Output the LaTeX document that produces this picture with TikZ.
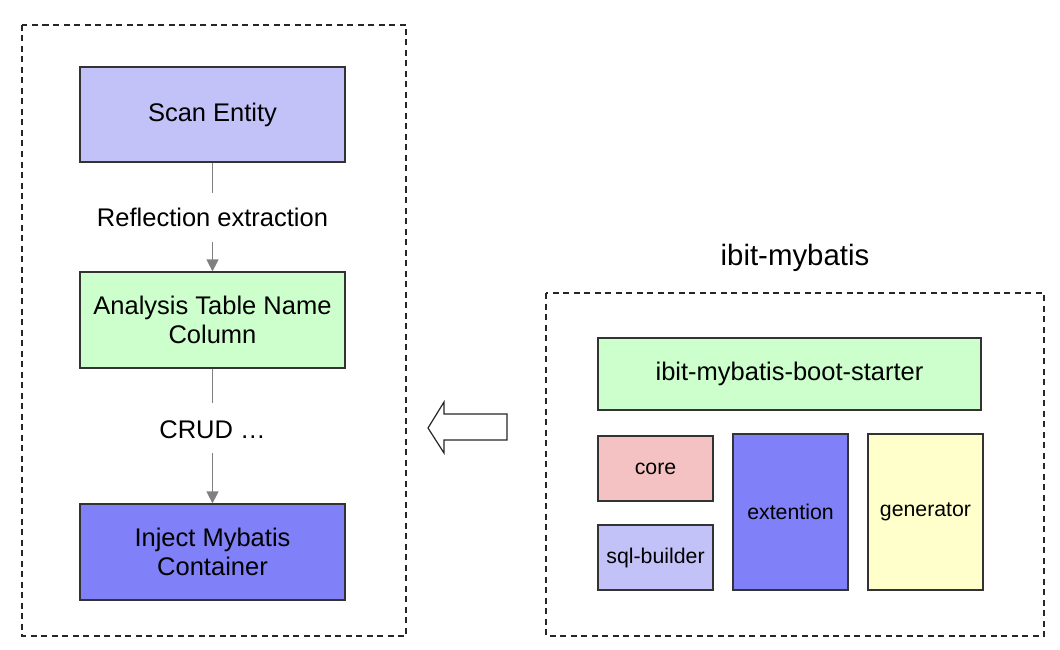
\documentclass[tikz,border=0pt]{standalone}
\usepackage{fontspec}
\setmainfont{Liberation Sans}
\usetikzlibrary{arrows.meta}
\definecolor{lav}{HTML}{C2C2F8}
\definecolor{grn}{HTML}{CCFFCC}
\definecolor{blu}{HTML}{8080F8}
\definecolor{pnk}{HTML}{F4C2C2}
\definecolor{ylw}{HTML}{FFFFCC}
\definecolor{edge}{HTML}{333333}
\tikzset{
  box/.style={draw=edge, line width=1.2pt, inner sep=0pt, align=center, font=\fontsize{25.5}{29}\selectfont},
  sbox/.style={draw=edge, line width=1.2pt, inner sep=0pt, align=center, font=\fontsize{21.3}{25}\selectfont},
  frame/.style={draw=black!85, line width=1.1pt, dash pattern=on 6pt off 4.5pt},
  conn/.style={draw=black!50, line width=1.2pt},
  arr/.style={conn, -{Triangle[length=12pt,width=12pt]}},
  lbl/.style={font=\fontsize{25.5}{29}\selectfont, inner sep=0pt}
}
\begin{document}
\begin{tikzpicture}[x=1pt,y=-1pt]
\useasboundingbox (0,0) rectangle (1060,650);
% frames
\draw[frame] (22,25) rectangle (406,636);
\draw[frame] (546,293) rectangle (1044,636);
% left flow
\node[box, fill=lav, minimum width=265pt, minimum height=95pt] (scan) at (212.5,114.5) {Scan Entity};
\node[box, fill=grn, minimum width=265pt, minimum height=96pt] (ana) at (212.5,320) {Analysis Table Name\\Column};
\node[box, fill=blu, minimum width=265pt, minimum height=96pt] (inj) at (212.5,552) {Inject Mybatis\\Container};
\node[lbl] (refl) at (212.5,217) {Reflection extraction};
\node[lbl] (crud) at (212.5,430) {CRUD \dots};
\draw[conn] (scan.south) -- (refl.north |- 0,193) coordinate (r1);
\draw[arr] (refl.south |- 0,242) coordinate (r2) -- (ana.north);
\draw[conn] (ana.south) -- (crud.north |- 0,403) coordinate (c1);
\draw[arr] (crud.south |- 0,453) coordinate (c2) -- (inj.north);
% hollow arrow
\draw[draw=black!85, line width=1.2pt, fill=white] (507,414) -- (444,414) -- (444,402) -- (428,428) -- (444,453) -- (444,440) -- (507,440) -- cycle;
% right
\node[font=\fontsize{29.4}{34}\selectfont, inner sep=0pt] (title) at (795,258) {ibit-mybatis};
\node[box, fill=grn, minimum width=383pt, minimum height=72pt] (boot) at (789.5,374) {ibit-mybatis-boot-starter};
\node[sbox, fill=pnk, minimum width=115pt, minimum height=65pt] (core) at (655.5,468.5) {core};
\node[sbox, fill=lav, minimum width=115pt, minimum height=65pt] (sql) at (655.5,557.5) {sql-builder};
\node[sbox, fill=blu, minimum width=115pt, minimum height=156pt] (ext) at (790.5,512) {extention};
\node[sbox, fill=ylw, minimum width=115pt, minimum height=156pt] (gen) at (925.5,512) {generator};
\end{tikzpicture}
\end{document}
